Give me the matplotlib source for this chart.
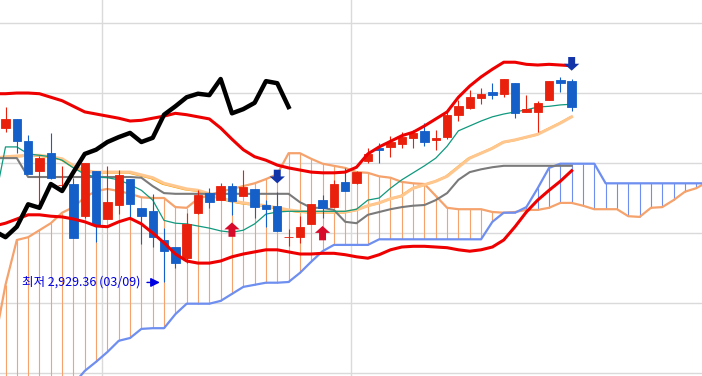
#!/usr/bin/env python3

import numpy as np
import matplotlib.pyplot as plt
from matplotlib import transforms

# daily candles, index 0 = first visible day
opens = [3150, 3163, 3131, 3089, 3114, 3069, 3070, 3024, 3089, 3020,
         3040, 3077, 3036, 3031, 2990, 2980, 2964, 3029, 3057, 3047,
         3067, 3053, 3063, 3040, 3039, 2994, 2994, 3013, 3047, 3037,
         3073, 3071, 3103, 3121, 3123, 3127, 3136, 3146, 3133, 3137,
         3169, 3179, 3193, 3201, 3199, 3214, 3173, 3173, 3190, 3219, 3217]
highs = [3180, 3163, 3140, 3110, 3143, 3096, 3079, 3100, 3089, 3096,
         3090, 3077, 3036, 3056, 3007, 2980, 3029, 3061, 3064, 3071,
         3071, 3090, 3063, 3047, 3059, 3006, 3024, 3041, 3054, 3076,
         3093, 3089, 3121, 3129, 3139, 3144, 3147, 3157, 3147, 3173,
         3190, 3204, 3207, 3214, 3220, 3214, 3197, 3189, 3217, 3223, 3220]
lows = [3144, 3114, 3084, 3036, 3077, 3066, 2993, 3021, 2987, 3020,
        3027, 3023, 2984, 2980, 2929.36, 2950, 2957, 3027, 3036, 3047,
        3026, 3053, 3021, 3009, 3003, 2981, 2986, 3013, 3021, 3037,
        3060, 3070, 3100, 3100, 3109, 3121, 3121, 3124, 3119, 3134,
        3160, 3177, 3184, 3191, 3194, 3164, 3173, 3144, 3190, 3201, 3174]
closes = [3163, 3131, 3084, 3107, 3079, 3069, 2993, 3100, 3011, 3044,
          3083, 3041, 3024, 2994, 2974, 2957, 3013, 3054, 3044, 3067,
          3046, 3066, 3037, 3034, 3003, 2994, 3009, 3041, 3036, 3070,
          3060, 3087, 3113, 3119, 3130, 3137, 3143, 3130, 3136, 3169,
          3181, 3194, 3199, 3197, 3220, 3171, 3177, 3186, 3217, 3214, 3180]

# indicator lines, first value is the day before the first candle
upper_band = [3199, 3199, 3200, 3200, 3199, 3194, 3189, 3181, 3173, 3170, 3167,
              3164, 3160, 3161, 3164, 3167, 3171, 3169, 3166, 3163, 3150,
              3134, 3119, 3109, 3104, 3097, 3093, 3090, 3087, 3086, 3086,
              3087, 3094, 3113, 3123, 3131, 3139, 3144, 3153, 3163, 3173,
              3194, 3210, 3223, 3234, 3244, 3244, 3241, 3240, 3241, 3240, 3239]
lower_band = [3010, 3014, 3020, 3026, 3026, 3024, 3023, 3020, 3016, 3010, 3009,
              3016, 3021, 3013, 3000, 2986, 2970, 2960, 2957, 2957, 2960,
              2966, 2970, 2973, 2976, 2976, 2973, 2970, 2970, 2971, 2971,
              2969, 2966, 2964, 2969, 2976, 2980, 2981, 2981, 2980, 2979,
              2976, 2974, 2976, 2980, 2990, 3009, 3030, 3047, 3061, 3074, 3089]
base_line = [3107, 3107, 3107, 3080, 3080, 3080, 3080, 3080, 3080, 3080, 3080,
             3080, 3080, 3079, 3067, 3057, 3056, 3056, 3056, 3056, 3056,
             3056, 3056, 3056, 3056, 3056, 3056, 3044, 3036, 3036, 3033,
             3016, 3014, 3026, 3030, 3034, 3037, 3039, 3040, 3047, 3057,
             3076, 3087, 3091, 3094, 3096, 3096, 3096, 3096, 3096, 3096, 3096]
conv_line = [3041, 3123, 3123, 3113, 3111, 3109, 3104, 3093, 3084, 3080, 3079,
             3076, 3069, 3061, 3047, 3018, 3014, 3013, 3010, 3007, 3003,
             3001, 3004, 3013, 3027, 3030, 3031, 3031, 3031, 3031, 3031,
             3031, 3034, 3047, 3050, 3064, 3076, 3086, 3096, 3107, 3124,
             3146, 3153, 3160, 3166, 3170, 3173, 3176, 3180, 3181, 3183, 3184]
ma_line = [3107, 3109, 3110, 3111, 3111, 3109, 3106, 3096, 3089, 3087, 3087,
           3087, 3087, 3083, 3079, 3071, 3067, 3063, 3061, 3056, 3050,
           3046, 3043, 3041, 3039, 3036, 3033, 3031, 3030, 3030, 3030,
           3030, 3033, 3039, 3043, 3049, 3053, 3064, 3069, 3074, 3081,
           3094, 3107, 3114, 3121, 3130, 3133, 3137, 3141, 3149, 3157, 3166]

# leading spans (cloud), day -1 .. 62
span_a = [2840, 2926, 2990, 2994, 3004, 3014, 3029, 3037, 3051, 3060, 3063,
          3060, 3056, 3051, 3050, 3050, 3037, 3036, 3049, 3054, 3059,
          3063, 3067, 3071, 3077, 3084, 3114, 3114, 3106, 3099, 3096,
          3093, 3087, 3086, 3081, 3079, 3073, 3071, 3070, 3053, 3036,
          3034, 3034, 3034, 3030, 3029, 3030, 3033, 3033, 3036, 3043,
          3043, 3039, 3034, 3034, 3034, 3024, 3023, 3036, 3037, 3047,
          3059, 3064, 3073]
span_b = [2690, 2704, 2716, 2726, 2740, 2754, 2769, 2784, 2803, 2816, 2830,
          2846, 2850, 2863, 2864, 2864, 2884, 2899, 2899, 2899, 2903,
          2913, 2923, 2926, 2929, 2929, 2930, 2943, 2959, 2974, 2983,
          2983, 2983, 2983, 2991, 2991, 2991, 2991, 2991, 2991, 2991,
          2991, 2991, 2991, 3016, 3029, 3029, 3037, 3064, 3093, 3099,
          3099, 3099, 3099, 3071, 3071, 3071, 3071, 3071, 3071, 3071,
          3071, 3071, 3071]

buy_days = [20, 28]
sell_days = [24, 50]
low_day = 14
low_label = '최저 2,929.36 (03/09)'
lag = 25

RED = '#e8200c'
BLUE = '#1560c8'
SPAN_A_COLOR = '#f5a26c'
SPAN_B_COLOR = '#6e8ef0'


def draw_cloud(ax):
    xs = np.arange(len(span_a)) - 1
    a = np.array(span_a)
    b = np.array(span_b)
    cols = np.where(a >= b, SPAN_A_COLOR, SPAN_B_COLOR)
    ax.vlines(xs, np.minimum(a, b), np.maximum(a, b), colors=cols, lw=0.8, zorder=1)
    ax.plot(xs, a, color=SPAN_A_COLOR, lw=1.6, zorder=2)
    ax.plot(xs, b, color=SPAN_B_COLOR, lw=1.6, zorder=2)


def draw_candles(ax):
    x = np.arange(len(closes))
    o, h, l, c = (np.array(v, dtype=float) for v in (opens, highs, lows, closes))
    cols = np.where(c >= o, RED, BLUE)
    ax.vlines(x, l, h, colors=cols, lw=0.8, zorder=4)
    ax.bar(x, np.abs(c - o), bottom=np.minimum(o, c), width=0.74,
           color=cols, edgecolor=cols, lw=0.6, zorder=4)


def draw_signals(ax):
    style = 'simple,head_length=0.5,head_width=1.1,tail_width=0.5'
    for d in buy_days:
        ax.annotate('', xy=(d, lows[d]), xytext=(0, -22), textcoords='offset pixels',
                    arrowprops=dict(arrowstyle=style, color='#d80a2a', lw=0,
                                    shrinkA=0, shrinkB=5.5, mutation_scale=10),
                    zorder=7)
    for d in sell_days:
        ax.annotate('', xy=(d, highs[d]), xytext=(0, 22), textcoords='offset pixels',
                    arrowprops=dict(arrowstyle=style, color='#1234a8', lw=0,
                                    shrinkA=0, shrinkB=6, mutation_scale=10),
                    zorder=7)

    ax.annotate(low_label, xy=(low_day, lows[low_day]), xytext=(-24, 0),
                textcoords='offset pixels', ha='right', va='center',
                color='#0000e0', fontsize=9,
                family=['Noto Sans CJK KR', 'DejaVu Sans'],
                arrowprops=dict(arrowstyle='-|>,head_length=0.6,head_width=0.3',
                                color='#0000e0', lw=1, shrinkA=3, shrinkB=3),
                zorder=7)


def main():
    fig = plt.figure(figsize=(7.02, 3.76), dpi=100)
    ax = fig.add_axes([0, 0, 1, 1])

    draw_cloud(ax)

    xl = np.arange(len(base_line)) - 1
    # gold line peeks out beside the light moving average
    shifted = transforms.offset_copy(ax.transData, fig=fig, x=-1.5, y=-0.5, units='dots')
    ax.plot(xl, ma_line, color='#f0a300', lw=1.5, transform=shifted, zorder=3)
    ax.plot(xl, ma_line, color='#ffc68e', lw=2.2, zorder=3)
    ax.plot(xl, base_line, color='#7a7a7a', lw=1.5, zorder=3)
    ax.plot(xl, conv_line, color='#10997e', lw=0.9, zorder=3)

    draw_candles(ax)

    ax.plot(xl, upper_band, color='#ee0000', lw=2.2, zorder=5)
    ax.plot(xl, lower_band, color='#ee0000', lw=2.2, zorder=5)

    # lagging span: closes shifted back
    lag_x = np.arange(len(closes)) - lag
    ax.plot(lag_x[lag - 1:], closes[lag - 1:], color='black', lw=3.2, zorder=6)

    draw_signals(ax)

    ax.set_xlim(-0.486, 61.51)
    ax.set_ylim(2795.7, 3332.9)
    ax.set_yticks([2800, 2900, 3000, 3100, 3200, 3300])
    ax.set_xticks([8.5, 30.5])
    ax.grid(True, color='#dadada', lw=1.0, zorder=0)
    ax.set_axisbelow(True)
    ax.tick_params(length=0, labelleft=False, labelbottom=False)
    for s in ax.spines.values():
        s.set_visible(False)

    fig.savefig('out.png', dpi=100)


if __name__ == "__main__":
    main()
